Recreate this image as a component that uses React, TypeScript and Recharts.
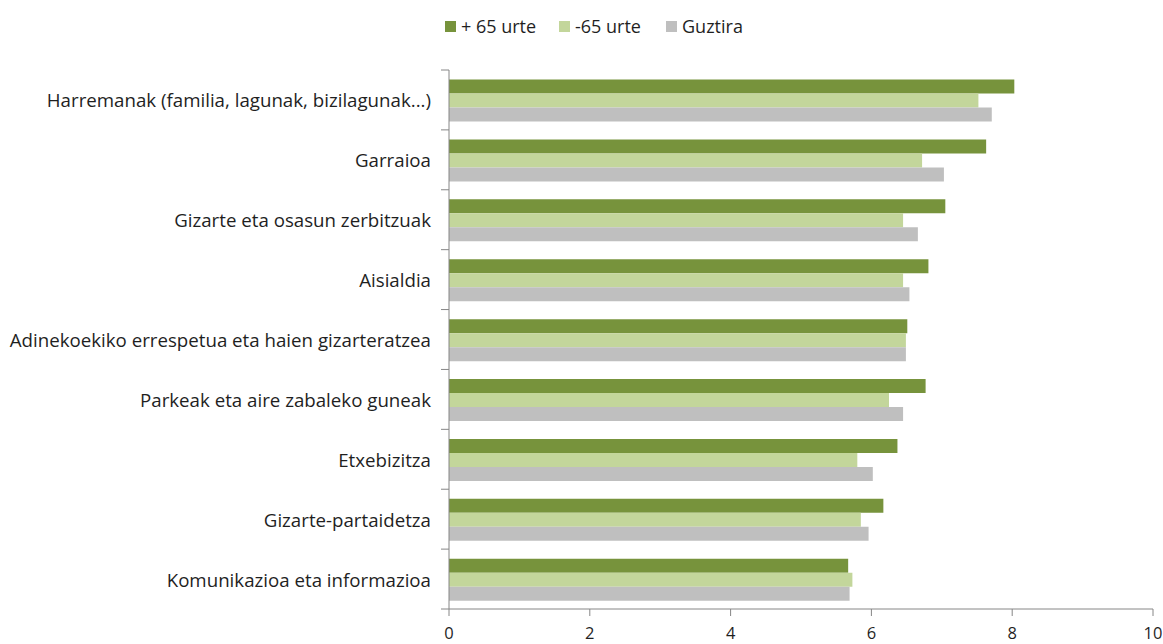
import React from "react";
import { BarChart, Bar, XAxis, YAxis, Legend } from "recharts";

const categories = [
  "Harremanak (familia, lagunak, bizilagunak...)",
  "Garraioa",
  "Gizarte eta osasun zerbitzuak",
  "Aisialdia",
  "Adinekoekiko errespetua eta haien gizarteratzea",
  "Parkeak eta aire zabaleko guneak",
  "Etxebizitza",
  "Gizarte-partaidetza",
  "Komunikazioa eta informazioa",
];
const over65 = [8.03, 7.63, 7.05, 6.81, 6.51, 6.77, 6.37, 6.17, 5.67];
const under65 = [7.52, 6.72, 6.45, 6.45, 6.49, 6.25, 5.8, 5.85, 5.73];
const total = [7.71, 7.03, 6.66, 6.54, 6.49, 6.45, 6.02, 5.96, 5.69];
const xTicks = [0, 2, 4, 6, 8, 10];
const seriesNames = ["+ 65 urte", "-65 urte", "Guztira"];
const seriesColors = ["#77933C", "#C3D69B", "#BFBFBF"];

const data = categories.map((c, i) => ({
  name: c,
  a: over65[i],
  b: under65[i],
  c: total[i],
}));

const W = 1163;
const H = 644;
const M = { top: 70, right: 10, bottom: 0, left: 0 };
const XH = 35;
const YW = 449;
const FONT = "'Open Sans', 'Noto Sans', sans-serif";
const band = (H - M.top - M.bottom - XH) / categories.length;
const legendItemWidths = [114, 107, 100];

const YTick = (props: any) => {
  const { x, y, payload } = props;
  const isLast = payload.index === categories.length - 1;
  return (
    <g>
      <line x1={x - 8} x2={x} y1={y - band / 2} y2={y - band / 2} stroke="#868686" strokeWidth={1} />
      {isLast && (
        <line x1={x - 8} x2={x} y1={y + band / 2} y2={y + band / 2} stroke="#868686" strokeWidth={1} />
      )}
      <text
        x={x - 18}
        y={y}
        textAnchor="end"
        dominantBaseline="central"
        fontSize={18.7}
        fontFamily={FONT}
        fill="#1f1f1f"
      >
        {payload.value}
      </text>
    </g>
  );
};

const LegendContent = () => (
  <div
    style={{
      display: "flex",
      justifyContent: "flex-start",
      fontFamily: FONT,
      fontSize: 18,
      color: "#1f1f1f",
      paddingLeft: 445,
      lineHeight: "22px",
    }}
  >
    {seriesNames.map((n, i) => (
      <div key={n} style={{ display: "flex", alignItems: "center", width: legendItemWidths[i] }}>
        <span
          style={{
            display: "inline-block",
            width: 11,
            height: 11,
            background: seriesColors[i],
            marginRight: 5,
          }}
        />
        <span>{n}</span>
      </div>
    ))}
  </div>
);

export default function App() {
  return (
    <div style={{ position: "absolute", left: 0, top: 0, width: W, height: H, background: "#fff" }}>
      <BarChart
        width={W}
        height={H}
        data={data}
        layout="vertical"
        margin={M}
        barCategoryGap="16%"
        barGap={0}
      >
        <Legend
          verticalAlign="middle"
          content={<LegendContent />}
          wrapperStyle={{ top: 15, left: 0, width: W }}
        />
        <XAxis
          type="number"
          domain={[0, 10]}
          ticks={xTicks}
          height={XH}
          axisLine={{ stroke: "#868686" }}
          tickLine={{ stroke: "#868686" }}
          tickSize={7}
          tickMargin={11}
          tick={{ fontSize: 16.5, fontFamily: FONT, fill: "#1f1f1f" }}
          interval={0}
        />
        <YAxis
          type="category"
          dataKey="name"
          width={YW}
          axisLine={{ stroke: "#868686" }}
          tickLine={false}
          tickSize={0}
          tickMargin={0}
          tick={<YTick />}
          interval={0}
        />
        <Bar dataKey="a" name={seriesNames[0]} fill={seriesColors[0]} isAnimationActive={false} />
        <Bar dataKey="b" name={seriesNames[1]} fill={seriesColors[1]} isAnimationActive={false} />
        <Bar dataKey="c" name={seriesNames[2]} fill={seriesColors[2]} isAnimationActive={false} />
      </BarChart>
    </div>
  );
}
